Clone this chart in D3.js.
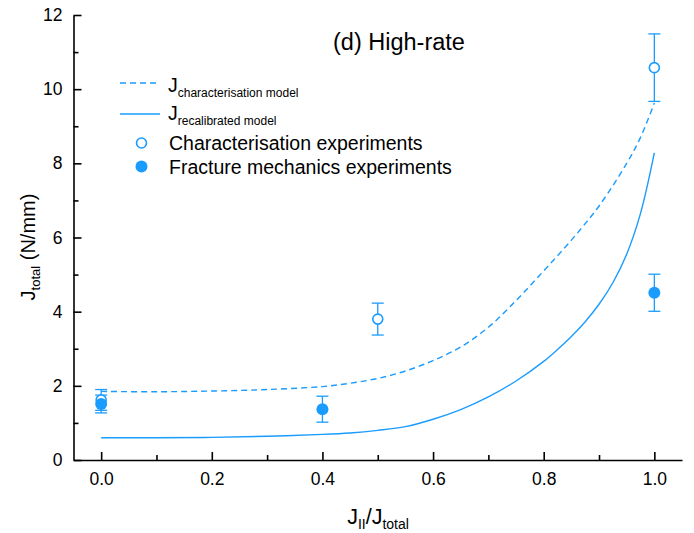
<!DOCTYPE html>
<html><head><meta charset="utf-8">
<script src="https://cdn.jsdelivr.net/npm/d3@7"></script>
<style>body{margin:0;background:#fff}svg{display:block}text{font-family:"Liberation Sans",Arial,sans-serif}</style>
</head><body>
<svg id="c" width="694" height="533"></svg>
<script>
// Data
const charModelX = [0, 0.1, 0.2, 0.3, 0.4, 0.45, 0.5, 0.55, 0.6, 0.65, 0.7, 0.75, 0.8, 0.85, 0.9, 0.95, 0.975, 1.0];
const charModelY = [1.85, 1.84, 1.86, 1.9, 1.98, 2.07, 2.2, 2.4, 2.68, 3.05, 3.58, 4.3, 5.1, 5.93, 6.85, 8.0, 8.7, 9.63];
const recalModelX = [0, 0.1, 0.2, 0.3, 0.4, 0.45, 0.5, 0.55, 0.6, 0.65, 0.7, 0.75, 0.8, 0.825, 0.85, 0.875, 0.9, 0.925, 0.95, 0.975, 1.0];
const recalModelY = [0.6, 0.6, 0.61, 0.64, 0.69, 0.73, 0.8, 0.9, 1.1, 1.36, 1.7, 2.13, 2.66, 2.98, 3.33, 3.73, 4.2, 4.78, 5.55, 6.65, 8.28];
const charExpX = [0, 0.5, 1.0];
const charExpY = [1.62, 3.8, 10.58];
const charExpErr = [0.28, 0.43, 0.91];
const fracExpX = [0, 0.4, 1.0];
const fracExpY = [1.51, 1.37, 4.51];
const fracExpErr = [0.24, 0.35, 0.5];
const xTicks = [0, 0.2, 0.4, 0.6, 0.8, 1.0];
const xMinorTicks = [0.1, 0.3, 0.5, 0.7, 0.9];
const yTicks = [0, 2, 4, 6, 8, 10, 12];
const yMinorTicks = [1, 3, 5, 7, 9, 11];

const col = "#1a9cff";
const svg = d3.select("#c");
const x = d3.scaleLinear().domain([-0.05, 1.05]).range([73.5, 682]);
const y = d3.scaleLinear().domain([0, 12]).range([460, 15]);

// axes
const xAx = svg.append("g").attr("transform","translate(0,460)")
  .call(d3.axisBottom(x).tickValues(xTicks).tickFormat(d3.format(".1f")).tickSizeInner(-8).tickSizeOuter(0).tickPadding(13));
const xMinor = svg.append("g").attr("transform","translate(0,460)")
  .call(d3.axisBottom(x).tickValues(xMinorTicks).tickFormat("").tickSizeInner(-5).tickSizeOuter(0));
const yAx = svg.append("g").attr("transform","translate(73.5,0)")
  .call(d3.axisLeft(y).tickValues(yTicks).tickSizeInner(-8).tickSizeOuter(0).tickPadding(11));
const yMinor = svg.append("g").attr("transform","translate(73.5,0)")
  .call(d3.axisLeft(y).tickValues(yMinorTicks).tickFormat("").tickSizeInner(-5).tickSizeOuter(0));
[xAx,xMinor,yAx,yMinor].forEach(g=>{
  g.selectAll("path.domain").attr("stroke","#000").attr("stroke-width",1.6);
  g.selectAll(".tick line").attr("stroke","#000").attr("stroke-width",1.6);
  g.selectAll("text").attr("font-size",17.5).attr("fill","#000").attr("font-family","Liberation Sans, Arial, sans-serif");
});
xMinor.select("path.domain").remove(); yMinor.select("path.domain").remove();

// curves
const line = d3.line().x(d=>x(d[0])).y(d=>y(d[1])).curve(d3.curveCatmullRom.alpha(0.5));
svg.append("path").datum(charModelX.map((v,i)=>[v,charModelY[i]]))
  .attr("d",line).attr("fill","none").attr("stroke",col).attr("stroke-width",1.4).attr("stroke-dasharray","6,4");
svg.append("path").datum(recalModelX.map((v,i)=>[v,recalModelY[i]]))
  .attr("d",line).attr("fill","none").attr("stroke",col).attr("stroke-width",1.4);

// error bars
function errBars(xs, ys, es){
  const g = svg.append("g").attr("stroke",col).attr("stroke-width",1.3);
  xs.forEach((xv,i)=>{
    const cx = x(xv), t = y(ys[i]+es[i]), b = y(ys[i]-es[i]);
    g.append("line").attr("x1",cx).attr("x2",cx).attr("y1",t).attr("y2",b);
    g.append("line").attr("x1",cx-6).attr("x2",cx+6).attr("y1",t).attr("y2",t);
    g.append("line").attr("x1",cx-6).attr("x2",cx+6).attr("y1",b).attr("y2",b);
  });
}
errBars(charExpX, charExpY, charExpErr);
errBars(fracExpX, fracExpY, fracExpErr);
svg.append("g").selectAll("circle").data(charExpX).join("circle")
  .attr("cx",d=>x(d)).attr("cy",(d,i)=>y(charExpY[i])).attr("r",5)
  .attr("fill","#fff").attr("stroke",col).attr("stroke-width",1.6);
svg.append("g").selectAll("circle").data(fracExpX).join("circle")
  .attr("cx",d=>x(d)).attr("cy",(d,i)=>y(fracExpY[i])).attr("r",6)
  .attr("fill",col);

// title
svg.append("text").attr("x",333).attr("y",50).attr("font-size",23.5).text("(d) High-rate");

// legend
svg.append("line").attr("x1",120).attr("x2",160).attr("y1",83).attr("y2",83).attr("stroke",col).attr("stroke-width",1.4).attr("stroke-dasharray","6,4");
svg.append("line").attr("x1",120).attr("x2",160).attr("y1",114).attr("y2",114).attr("stroke",col).attr("stroke-width",1.4);
const t1 = svg.append("text").attr("x",168).attr("y",92).attr("font-size",19.5);
t1.append("tspan").text("J");
t1.append("tspan").attr("font-size",12).attr("dy",5).text("characterisation model");
const t2 = svg.append("text").attr("x",168).attr("y",120).attr("font-size",19.5);
t2.append("tspan").text("J");
t2.append("tspan").attr("font-size",12).attr("dy",5).text("recalibrated model");
svg.append("circle").attr("cx",141.5).attr("cy",143).attr("r",5).attr("fill","#fff").attr("stroke",col).attr("stroke-width",1.6);
svg.append("circle").attr("cx",141.5).attr("cy",166.5).attr("r",6).attr("fill",col);
svg.append("text").attr("x",169).attr("y",150).attr("font-size",19.5).text("Characterisation experiments");
svg.append("text").attr("x",169).attr("y",174).attr("font-size",19.5).text("Fracture mechanics experiments");

// axis titles
const xl = svg.append("text").attr("x",378).attr("y",524).attr("text-anchor","middle").attr("font-size",21.5);
xl.append("tspan").text("J");
xl.append("tspan").attr("font-size",14).attr("dy",5).text("II");
xl.append("tspan").attr("dy",-5).text("/J");
xl.append("tspan").attr("font-size",14).attr("dy",5).text("total");
const yl = svg.append("text").attr("transform","translate(35,247) rotate(-90)").attr("text-anchor","middle").attr("font-size",20);
yl.append("tspan").text("J");
yl.append("tspan").attr("font-size",13).attr("dy",5).text("total");
yl.append("tspan").attr("dy",-5).text(" (N/mm)");
</script>
</body></html>
